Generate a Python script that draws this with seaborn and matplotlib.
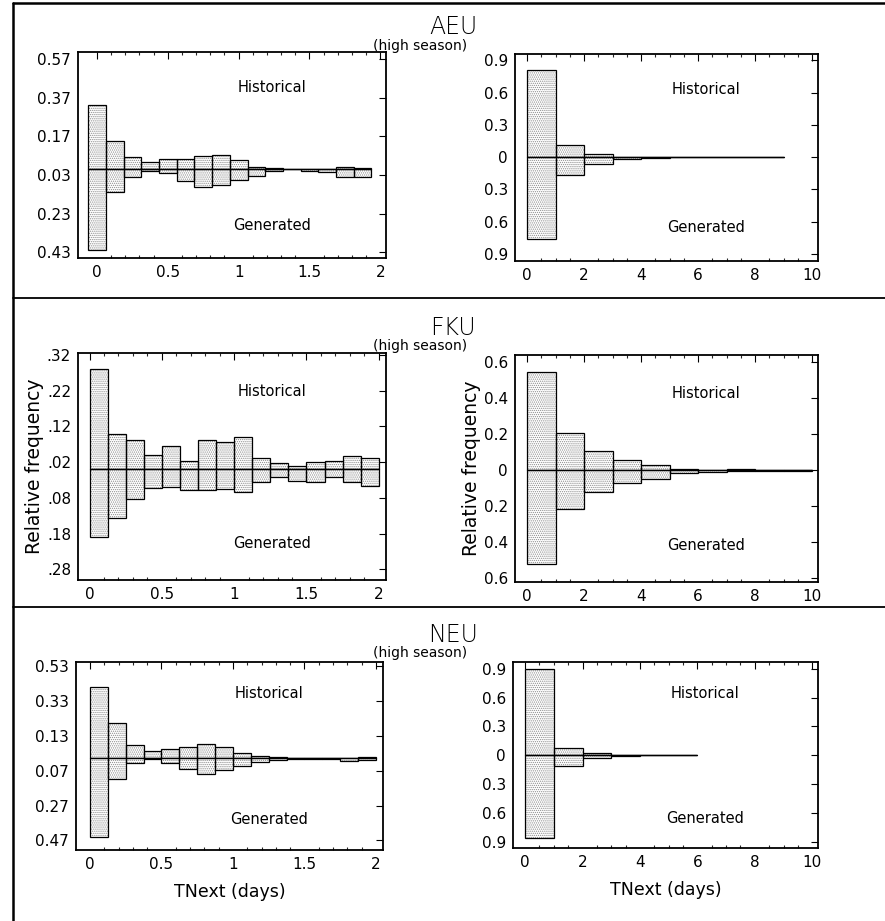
import numpy as np
import matplotlib
matplotlib.use('Agg')
import matplotlib.pyplot as plt
from matplotlib.lines import Line2D
import seaborn as sns

# Relative frequency of TNext, historical (up) vs generated (down), high season

# left column: TNext 0-2 days, bins of 0.125
fine_bins = [0.0, 0.125, 0.25, 0.375, 0.5, 0.625, 0.75, 0.875,
             1.0, 1.125, 1.25, 1.375, 1.5, 1.625, 1.75, 1.875]
# right column: TNext 0-10 days, bins of 1 day
day_bins = [0, 1, 2, 3, 4, 5, 6, 7, 8, 9]

aeu_fine_hist = [0.33, 0.145, 0.064, 0.035, 0.052, 0.052, 0.068, 0.072,
                 0.048, 0.010, 0.004, 0.001, 0.002, 0.003, 0.010, 0.004]
aeu_fine_gen = [0.42, 0.120, 0.039, 0.010, 0.019, 0.064, 0.093, 0.081,
                0.054, 0.035, 0.010, 0.002, 0.012, 0.015, 0.039, 0.043]
aeu_day_hist = [0.81, 0.117, 0.028, 0.005, 0.002, 0.001, 0.001, 0.001, 0.001]
aeu_day_gen = [0.756, 0.166, 0.067, 0.015, 0.003, 0.001, 0.001, 0.001, 0.001]

fku_fine_hist = [0.28, 0.098, 0.082, 0.041, 0.065, 0.022, 0.083, 0.077,
                 0.089, 0.031, 0.017, 0.010, 0.019, 0.023, 0.037, 0.031]
fku_fine_gen = [0.19, 0.137, 0.083, 0.053, 0.050, 0.059, 0.059, 0.055,
                0.063, 0.037, 0.023, 0.033, 0.037, 0.023, 0.037, 0.047]
fku_day_hist = [0.545, 0.206, 0.107, 0.055, 0.029, 0.005, 0.003, 0.006, 0.002, 0.001]
fku_day_gen = [0.52, 0.213, 0.118, 0.070, 0.047, 0.015, 0.008, 0.002, 0.003, 0.002]

neu_fine_hist = [0.41, 0.206, 0.078, 0.045, 0.055, 0.063, 0.082, 0.063,
                 0.030, 0.014, 0.006, 0.003, 0.001, 0.001, 0.002, 0.006]
neu_fine_gen = [0.45, 0.120, 0.024, 0.006, 0.025, 0.059, 0.088, 0.065,
                0.043, 0.020, 0.010, 0.003, 0.001, 0.002, 0.012, 0.008]
neu_day_hist = [0.90, 0.071, 0.025, 0.005, 0.002, 0.001]
neu_day_gen = [0.857, 0.107, 0.025, 0.003, 0.002, 0.001]

# tick values (signed) and their printed labels
aeu_fine_ticks = [0.57, 0.37, 0.17, -0.03, -0.23, -0.43]
aeu_fine_labels = ['0.57', '0.37', '0.17', '0.03', '0.23', '0.43']
fku_fine_ticks = [0.32, 0.22, 0.12, 0.02, -0.08, -0.18, -0.28]
fku_fine_labels = ['.32', '.22', '.12', '.02', '.08', '.18', '.28']
neu_fine_ticks = [0.53, 0.33, 0.13, -0.07, -0.27, -0.47]
neu_fine_labels = ['0.53', '0.33', '0.13', '0.07', '0.27', '0.47']
day_ticks_09 = [0.9, 0.6, 0.3, 0, -0.3, -0.6, -0.9]
day_labels_09 = ['0.9', '0.6', '0.3', '0', '0.3', '0.6', '0.9']
day_ticks_06 = [0.6, 0.4, 0.2, 0, -0.2, -0.4, -0.6]
day_labels_06 = ['0.6', '0.4', '0.2', '0', '0.2', '0.4', '0.6']

titles = ['AEU', 'FKU', 'NEU']

sns.set_theme(style='white')
plt.rcParams['font.family'] = ['DejaVu Sans']
plt.rcParams['hatch.linewidth'] = 0.6
plt.rcParams['text.color'] = 'black'
plt.rcParams['axes.labelcolor'] = 'black'

W, H = 885, 921
fig = plt.figure(figsize=(W / 100, H / 100), dpi=100)


def px_axes(l, t, r, b):
    return fig.add_axes([l / W, 1 - b / H, (r - l) / W, (b - t) / H])


def draw_panel(ax, xs, hist, gen, width, align, ticks, labels, ylim, xlim,
               xticks, xticklabels, minor):
    xs = np.asarray(xs, dtype=float)
    centers = xs + width / 2 if align == 'edge' else xs
    neg = [-g for g in gen]
    for vals in (hist, neg):
        sns.barplot(x=centers, y=vals, native_scale=True, width=1,
                    color='white', hatch='........', edgecolor='#8c8c8c',
                    linewidth=0, errorbar=None, ax=ax)
        sns.barplot(x=centers, y=vals, native_scale=True, width=1,
                    fill=False, edgecolor='black', linewidth=0.9,
                    errorbar=None, ax=ax)
    ax.plot([centers[0] - width / 2, centers[-1] + width / 2], [0, 0],
            color='black', lw=0.9)
    ax.set_xlim(*xlim)
    ax.set_ylim(*ylim)
    ax.set_yticks(ticks)
    ax.set_yticklabels(labels)
    ax.set_xticks(xticks)
    ax.set_xticklabels(xticklabels)
    ax.set_xticks(minor, minor=True)
    ax.set_xlabel('')
    ax.set_ylabel('')
    ax.tick_params(direction='in', top=True, right=True, labelsize=11,
                   length=5, width=0.8, pad=5, colors='black')
    ax.tick_params(which='minor', direction='in', top=True, bottom=True,
                   length=2.5, width=0.8)
    for s in ax.spines.values():
        s.set_color('black')
        s.set_linewidth(1.3)
    ax.text(0.63, 0.83, 'Historical', transform=ax.transAxes, ha='center',
            va='center', fontsize=10.5)
    ax.text(0.63, 0.16, 'Generated', transform=ax.transAxes, ha='center',
            va='center', fontsize=10.5)


fine_xt = [0, 0.5, 1, 1.5, 2]
fine_xl = ['0', '0.5', '1', '1.5', '2']
fine_minor = list(np.arange(0, 2.01, 0.1))
day_xt = [0, 2, 4, 6, 8, 10]
day_xl = ['0', '2', '4', '6', '8', '10']
day_minor = list(np.arange(0, 10.1, 0.5))

rows = [
    dict(lbox=(78, 52, 386, 258), rbox=(515, 54, 818, 261), ty=27, sy=46,
         fine=(aeu_fine_hist, aeu_fine_gen, 'center', aeu_fine_ticks,
               aeu_fine_labels, (-0.46, 0.606), (-0.134, 2.04)),
         day=(aeu_day_hist, aeu_day_gen, day_ticks_09, day_labels_09,
              (-0.965, 0.96))),
    dict(lbox=(78, 353, 386, 580), rbox=(515, 355, 818, 582), ty=328, sy=346,
         fine=(fku_fine_hist, fku_fine_gen, 'edge', fku_fine_ticks,
               fku_fine_labels, (-0.31, 0.325), (-0.08, 2.05)),
         day=(fku_day_hist, fku_day_gen, day_ticks_06, day_labels_06,
              (-0.62, 0.64))),
    dict(lbox=(76, 662, 383, 850), rbox=(513, 662, 818, 848), ty=635, sy=653,
         fine=(neu_fine_hist, neu_fine_gen, 'edge', neu_fine_ticks,
               neu_fine_labels, (-0.525, 0.553), (-0.098, 2.05)),
         day=(neu_day_hist, neu_day_gen, day_ticks_09, day_labels_09,
              (-0.964, 0.97))),
]

for i, row in enumerate(rows):
    axl = px_axes(*row['lbox'])
    h, g, al, tk, lb, yl, xl = row['fine']
    draw_panel(axl, fine_bins, h, g, 0.125, al, tk, lb, yl, xl,
               fine_xt, fine_xl, fine_minor)
    axr = px_axes(*row['rbox'])
    h, g, tk, lb, yl = row['day']
    draw_panel(axr, day_bins[:len(h)], h, g, 1.0, 'edge', tk, lb, yl,
               (-0.42, 10.2), day_xt, day_xl, day_minor)
    if i == 1:
        axl.set_ylabel('Relative frequency', fontsize=13.5, labelpad=2)
        axr.set_ylabel('Relative frequency', fontsize=13.5, labelpad=2)
    if i == 2:
        axl.set_xlabel('TNext (days)', fontsize=12.5, labelpad=8)
        axr.set_xlabel('TNext (days)', fontsize=12.5, labelpad=8)
    fig.text(453 / W, 1 - row['ty'] / H, titles[i], ha='center', va='center',
             fontsize=17, fontweight='light')
    fig.text(420 / W, 1 - row['sy'] / H, '(high season)', ha='center',
             va='center', fontsize=10)

# frame lines separating the three regions
fig.add_artist(Line2D([13 / W, 13 / W], [0, 1 - 3 / H], color='black', lw=1.8))
for yy, lw in [(3, 1.8), (298, 1.3), (607, 1.3)]:
    fig.add_artist(Line2D([13 / W, 1], [1 - yy / H, 1 - yy / H],
                          color='black', lw=lw))

fig.savefig('out.png', dpi=100, facecolor='white')
